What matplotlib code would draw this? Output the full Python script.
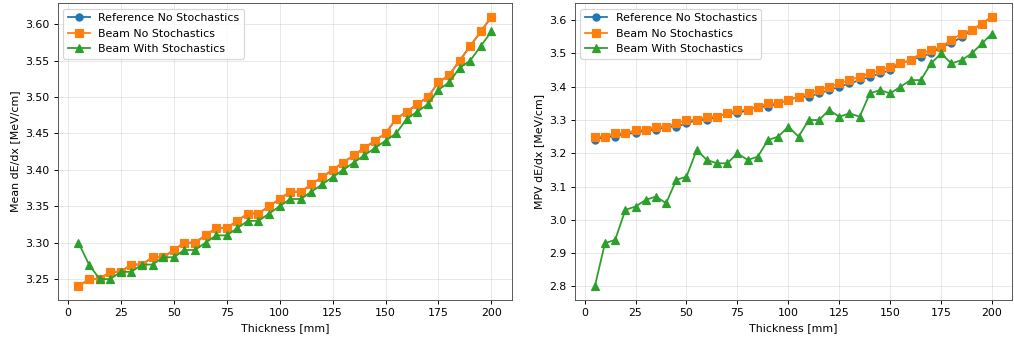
import matplotlib
matplotlib.use("Agg")
import matplotlib.pyplot as plt

thickness = list(range(5, 205, 5))

mean_ref = [3.24, 3.25, 3.25, 3.26, 3.26, 3.27, 3.27, 3.28, 3.28, 3.29,
            3.30, 3.30, 3.31, 3.32, 3.32, 3.33, 3.34, 3.34, 3.35, 3.36,
            3.37, 3.37, 3.38, 3.39, 3.40, 3.41, 3.42, 3.43, 3.44, 3.45,
            3.47, 3.48, 3.49, 3.50, 3.52, 3.53, 3.55, 3.57, 3.59, 3.61]
mean_beam = [3.24, 3.25, 3.25, 3.26, 3.26, 3.27, 3.27, 3.28, 3.28, 3.29,
             3.30, 3.30, 3.31, 3.32, 3.32, 3.33, 3.34, 3.34, 3.35, 3.36,
             3.37, 3.37, 3.38, 3.39, 3.40, 3.41, 3.42, 3.43, 3.44, 3.45,
             3.47, 3.48, 3.49, 3.50, 3.52, 3.53, 3.55, 3.57, 3.59, 3.61]
mean_stoch = [3.30, 3.27, 3.25, 3.25, 3.26, 3.26, 3.27, 3.27, 3.28, 3.28,
              3.29, 3.29, 3.30, 3.31, 3.31, 3.32, 3.33, 3.33, 3.34, 3.35,
              3.36, 3.36, 3.37, 3.38, 3.39, 3.40, 3.41, 3.42, 3.43, 3.44,
              3.45, 3.47, 3.48, 3.49, 3.51, 3.52, 3.54, 3.55, 3.57, 3.59]

mpv_ref = [3.24, 3.25, 3.25, 3.26, 3.26, 3.27, 3.27, 3.28, 3.28, 3.29,
           3.30, 3.30, 3.31, 3.32, 3.32, 3.33, 3.34, 3.34, 3.35, 3.36,
           3.37, 3.37, 3.38, 3.39, 3.40, 3.41, 3.42, 3.43, 3.44, 3.45,
           3.47, 3.48, 3.49, 3.50, 3.52, 3.53, 3.55, 3.57, 3.59, 3.61]
mpv_beam = [3.25, 3.25, 3.26, 3.26, 3.27, 3.27, 3.28, 3.28, 3.29, 3.30,
            3.30, 3.31, 3.31, 3.32, 3.33, 3.33, 3.34, 3.35, 3.35, 3.36,
            3.37, 3.38, 3.39, 3.40, 3.41, 3.42, 3.43, 3.44, 3.45, 3.46,
            3.47, 3.48, 3.50, 3.51, 3.52, 3.54, 3.56, 3.57, 3.59, 3.61]
mpv_stoch = [2.80, 2.93, 2.94, 3.03, 3.04, 3.06, 3.07, 3.05, 3.12, 3.13,
             3.21, 3.18, 3.17, 3.17, 3.20, 3.18, 3.19, 3.24, 3.25, 3.28,
             3.25, 3.30, 3.30, 3.33, 3.31, 3.32, 3.31, 3.38, 3.39, 3.38,
             3.40, 3.42, 3.42, 3.47, 3.50, 3.47, 3.48, 3.50, 3.53, 3.56]

labels = ['Reference No Stochastics', 'Beam No Stochastics', 'Beam With Stochastics']

plt.rcParams['font.size'] = 9.2

# original looks like a 100 dpi figure shrunk to ~86%
fig = plt.figure(figsize=(1014 / 86, 340 / 86), dpi=86)
ax1 = fig.add_axes([0.057, 0.118, 0.448, 0.872])
ax2 = fig.add_axes([0.567, 0.118, 0.431, 0.872])

for ax, series, ylab in [(ax1, (mean_ref, mean_beam, mean_stoch), 'Mean dE/dx [MeV/cm]'),
                         (ax2, (mpv_ref, mpv_beam, mpv_stoch), 'MPV dE/dx [MeV/cm]')]:
    ax.plot(thickness, series[0], marker='o', label=labels[0])
    ax.plot(thickness, series[1], marker='s', label=labels[1])
    ax.plot(thickness, series[2], marker='^', label=labels[2])
    ax.set_xlabel('Thickness [mm]')
    ax.set_ylabel(ylab)
    ax.grid(True, alpha=0.3)
    ax.legend(loc='upper left')
    for s in ax.spines.values():
        s.set_edgecolor('#555555')

fig.savefig('out.png', dpi=86)
